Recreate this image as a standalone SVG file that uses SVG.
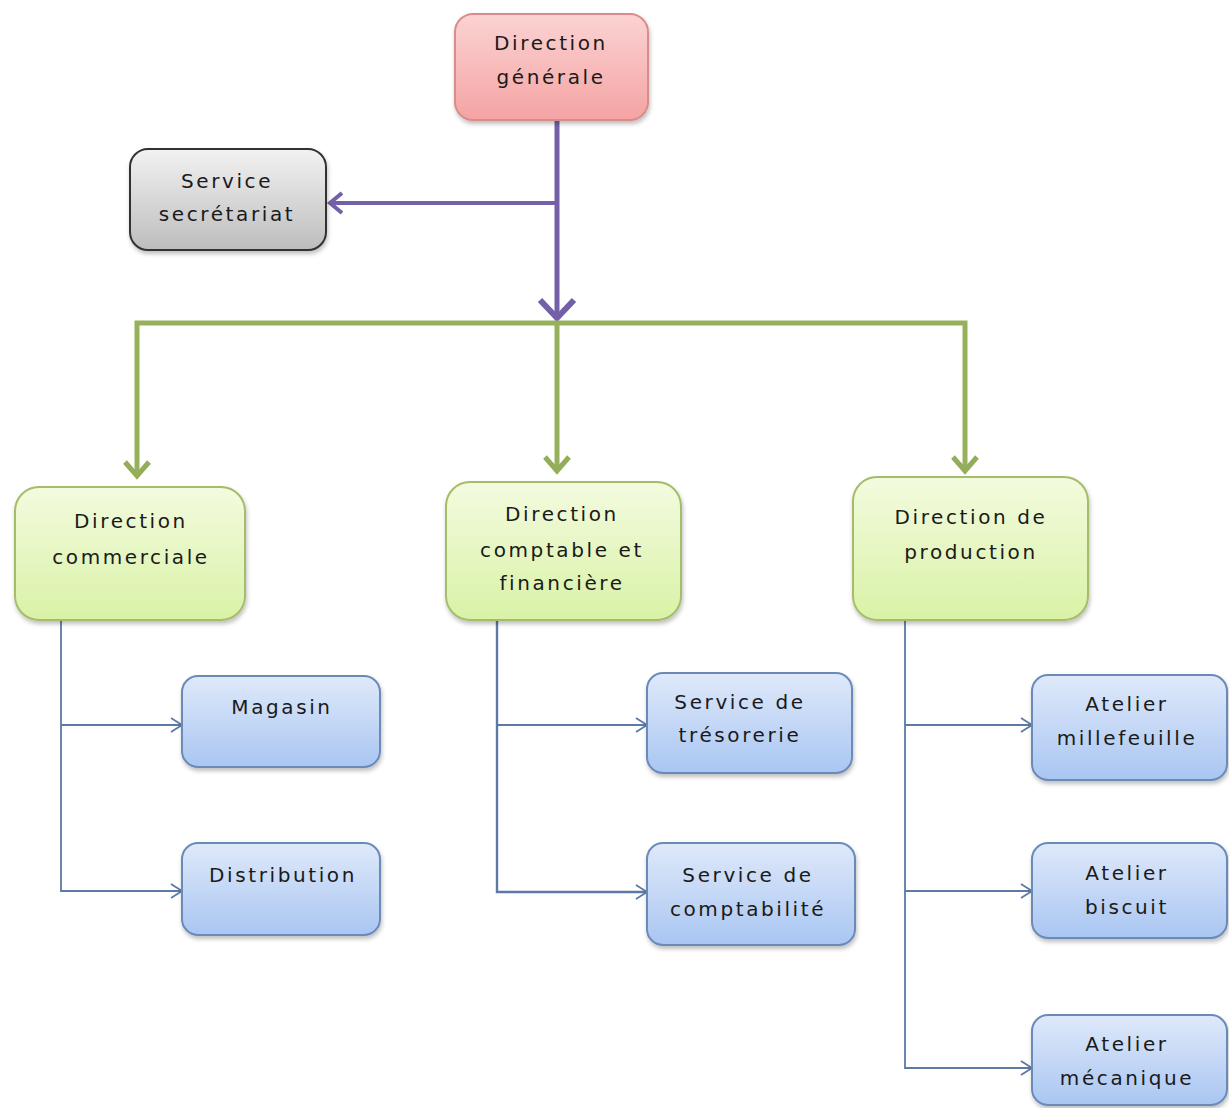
<svg xmlns="http://www.w3.org/2000/svg" width="1229" height="1108" viewBox="0 0 1229 1108">
<defs>
<linearGradient id="gPink" x1="0" y1="0" x2="0" y2="1"><stop offset="0" stop-color="#fbd3d3"/><stop offset="1" stop-color="#f5a3a3"/></linearGradient>
<linearGradient id="gGray" x1="0" y1="0" x2="0" y2="1"><stop offset="0" stop-color="#f2f2f2"/><stop offset="1" stop-color="#bdbdbd"/></linearGradient>
<linearGradient id="gGreen" x1="0" y1="0" x2="0" y2="1"><stop offset="0" stop-color="#f3fbdf"/><stop offset="1" stop-color="#d9f2a6"/></linearGradient>
<linearGradient id="gBlue" x1="0" y1="0" x2="0" y2="1"><stop offset="0" stop-color="#dfe9fa"/><stop offset="1" stop-color="#a9c6f2"/></linearGradient>
<filter id="sh" x="-10%" y="-10%" width="125%" height="130%"><feDropShadow dx="1" dy="3" stdDeviation="2" flood-color="#000" flood-opacity="0.25"/></filter>
<marker id="mPurpleBig" markerWidth="40" markerHeight="40" refX="34" refY="20" orient="auto" markerUnits="userSpaceOnUse" viewBox="0 0 40 40"><path d="M16,3 L34,20 L16,37" fill="none" stroke="#7460a8" stroke-width="6"/></marker>
<marker id="mPurpleSide" markerWidth="30" markerHeight="30" refX="26" refY="15" orient="auto" markerUnits="userSpaceOnUse" viewBox="0 0 30 30"><path d="M14,5 L26,15 L14,25" fill="none" stroke="#7460a8" stroke-width="4"/></marker>
<marker id="mGreen" markerWidth="30" markerHeight="30" refX="26" refY="15" orient="auto" markerUnits="userSpaceOnUse" viewBox="0 0 30 30"><path d="M12,3 L26,15 L12,27" fill="none" stroke="#93ad58" stroke-width="5"/></marker>
<marker id="mBlue" markerWidth="20" markerHeight="20" refX="17" refY="10" orient="auto" markerUnits="userSpaceOnUse" viewBox="0 0 20 20"><path d="M6,3 L17,10 L6,17" fill="none" stroke="#5c7aa3" stroke-width="1.8"/></marker>
</defs>
<style>
text{font-family:"DejaVu Sans","Liberation Sans",sans-serif;font-size:20px;fill:#1a1a1a;text-anchor:middle;letter-spacing:2.6px}
.box{stroke-width:2;filter:url(#sh)}
.pink{fill:url(#gPink);stroke:#d98c8c}
.gray{fill:url(#gGray);stroke:#333}
.green{fill:url(#gGreen);stroke:#a5bd6a}
.blue{fill:url(#gBlue);stroke:#6b8bb8}
.lp{fill:none;stroke:#7460a8;stroke-width:5}
.lg{fill:none;stroke:#97b05c;stroke-width:5}
.lb{fill:none;stroke:#5c7aa3;stroke-width:1.8}
</style>
<g id="connectors">
<path class="lp" d="M557,120 V318" marker-end="url(#mPurpleBig)"/>
<path class="lp" d="M555,203 H330" style="stroke-width:4" marker-end="url(#mPurpleSide)"/>
<path class="lg" d="M557,323 H137 V476" marker-end="url(#mGreen)"/>
<path class="lg" d="M557,323 V471" marker-end="url(#mGreen)"/>
<path class="lg" d="M557,323 H965 V471" marker-end="url(#mGreen)"/>
<path class="lb" d="M61,620 V891 H182" marker-end="url(#mBlue)"/>
<path class="lb" d="M61,725 H182" marker-end="url(#mBlue)"/>
<path class="lb" d="M497,620 V892 H647" style="stroke-width:2.4" marker-end="url(#mBlue)"/>
<path class="lb" d="M497,725 H647" marker-end="url(#mBlue)"/>
<path class="lb" d="M905,620 V1068 H1032" marker-end="url(#mBlue)"/>
<path class="lb" d="M905,725 H1032" marker-end="url(#mBlue)"/>
<path class="lb" d="M905,891 H1032" marker-end="url(#mBlue)"/>
</g>
<g id="n-direction-generale">
<rect class="box pink" x="455" y="14" width="193" height="106" rx="18"/>
<text x="551" y="50">Direction</text>
<text x="551" y="84">générale</text>
</g>
<g id="n-secretariat">
<rect class="box gray" x="130" y="149" width="196" height="101" rx="18"/>
<text x="227" y="188">Service</text>
<text x="227" y="221">secrétariat</text>
</g>
<g id="n-commerciale">
<rect class="box green" x="15" y="487" width="230" height="133" rx="24"/>
<text x="131" y="528">Direction</text>
<text x="131" y="564">commerciale</text>
</g>
<g id="n-comptable">
<rect class="box green" x="446" y="482" width="235" height="138" rx="24"/>
<text x="562" y="521">Direction</text>
<text x="562" y="557">comptable et</text>
<text x="562" y="590">financière</text>
</g>
<g id="n-production">
<rect class="box green" x="853" y="477" width="235" height="143" rx="24"/>
<text x="971" y="524">Direction de</text>
<text x="971" y="559">production</text>
</g>
<g id="n-magasin">
<rect class="box blue" x="182" y="676" width="198" height="91" rx="16"/>
<text x="282" y="714">Magasin</text>
</g>
<g id="n-distribution">
<rect class="box blue" x="182" y="843" width="198" height="92" rx="16"/>
<text x="283" y="882">Distribution</text>
</g>
<g id="n-tresorerie">
<rect class="box blue" x="647" y="673" width="205" height="100" rx="16"/>
<text x="740" y="709">Service de</text>
<text x="740" y="742">trésorerie</text>
</g>
<g id="n-comptabilite">
<rect class="box blue" x="647" y="843" width="208" height="102" rx="16"/>
<text x="748" y="882">Service de</text>
<text x="748" y="916">comptabilité</text>
</g>
<g id="n-millefeuille">
<rect class="box blue" x="1032" y="675" width="195" height="105" rx="16"/>
<text x="1127" y="711">Atelier</text>
<text x="1127" y="745">millefeuille</text>
</g>
<g id="n-biscuit">
<rect class="box blue" x="1032" y="843" width="195" height="95" rx="16"/>
<text x="1127" y="880">Atelier</text>
<text x="1127" y="914">biscuit</text>
</g>
<g id="n-mecanique">
<rect class="box blue" x="1032" y="1015" width="195" height="90" rx="16"/>
<text x="1127" y="1051">Atelier</text>
<text x="1127" y="1085">mécanique</text>
</g>
</svg>
